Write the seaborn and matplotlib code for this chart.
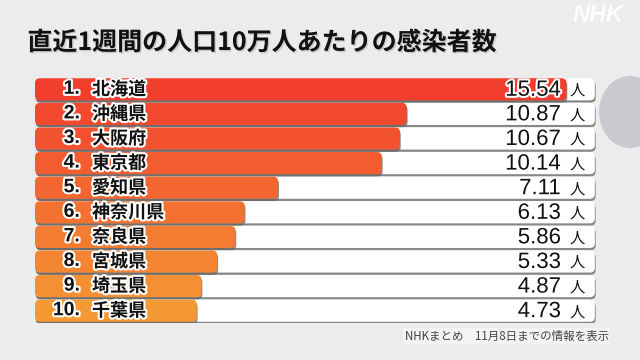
import numpy as np
import pandas as pd
import seaborn as sns
import matplotlib
matplotlib.use("Agg")
import matplotlib.pyplot as plt
import matplotlib.patheffects as pe
from matplotlib.patches import FancyBboxPatch, Ellipse
from matplotlib.colors import to_rgb

# ---- data ----
ranks = ["1.", "2.", "3.", "4.", "5.", "6.", "7.", "8.", "9.", "10."]
prefectures = ["北海道", "沖縄県", "大阪府", "東京都", "愛知県", "神奈川県", "奈良県", "宮城県", "埼玉県", "千葉県"]
values = [15.54, 10.87, 10.67, 10.14, 7.11, 6.13, 5.86, 5.33, 4.87, 4.73]
unit = "人"
title = "直近1週間の人口10万人あたりの感染者数"
footer = "NHKまとめ　11月8日までの情報を表示"
logo = "NHK"
track_max = 16.37

sns.set_theme(style="white")
plt.rcParams['font.family'] = ['Noto Sans CJK JP', 'DejaVu Sans']

BG = "#ececec"
fig = plt.figure(figsize=(6.4, 3.6), dpi=100, facecolor=BG)
ax = fig.add_axes([35/640, (360-323)/360, 605/640, 246/360])

n = len(values)
c0, c1 = np.array(to_rgb("#f23e2d")), np.array(to_rgb("#f49934"))
colors = [tuple(c0 + (c1 - c0) * i / (n - 1)) for i in range(n)]

df = pd.DataFrame({"pref": prefectures, "value": values, "track": [track_max] * n})
sns.barplot(data=df, x="track", y="pref", color="white", width=0.9, ax=ax, orient="h")
n_track = len(ax.patches)
sns.barplot(data=df, x="value", y="pref", hue="pref", palette=colors, width=0.9,
            ax=ax, orient="h", legend=False, saturation=1)

xmax = 605/34.2
ax.set_xlim(0, xmax)
ax.set_ylim(n - 0.5, -0.5)
ax.set_axis_off()

# rounded bars with shadow
px_x = 34.2
px_y = 24.6
r = 5 / px_x
asp = (5 / px_y) / r
patches = list(ax.patches)
for i, p in enumerate(patches):
    x, y = p.get_x(), p.get_y()
    w, h = p.get_width(), p.get_height()
    fc = p.get_facecolor()
    p.remove()
    fb = FancyBboxPatch((x, y), w, h, boxstyle=f"round,pad=0,rounding_size={r}",
                        mutation_aspect=asp, fc=fc, ec="none",
                        zorder=1 if i < n_track else 2)
    fb.set_path_effects([pe.SimplePatchShadow(offset=(0.6, -1.6), shadow_rgbFace="#666666", alpha=0.75),
                         pe.Normal()])
    ax.add_patch(fb)

outline = [pe.withStroke(linewidth=3, foreground="white")]
for i in range(n):
    ax.text((80 - 35) / px_x, i, ranks[i], ha="right", va="center", fontsize=14,
            family=["Liberation Sans", "DejaVu Sans"], weight="bold", color="#111111",
            path_effects=outline, zorder=5)
    ax.text((92 - 35) / px_x, i, prefectures[i], ha="left", va="center", fontsize=13,
            weight="bold", color="#111111", path_effects=outline, zorder=5)
    ax.text((561 - 35) / px_x, i + 0.04, f"{values[i]:.2f}", ha="right", va="center", fontsize=16,
            family=["Liberation Sans", "DejaVu Sans"], color="#111111",
            path_effects=outline, zorder=5)
    ax.text((577 - 35) / px_x, i + 0.04, unit, ha="center", va="center", fontsize=11,
            color="#111111", zorder=5)

# decorative ellipse on the right
fig.patches.append(Ellipse((630/640, 1 - 112/360), 62/640, 72/360, transform=fig.transFigure,
                           fc="#c8cad0", ec="none", zorder=-1))

fig.text(262/640, 1 - 43/360, title, ha="center", va="center", fontsize=18, weight="bold",
         color="#111111",
         path_effects=[pe.withSimplePatchShadow(offset=(1, -1), shadow_rgbFace="#999999", alpha=0.4)])
fig.text(609/640, 1 - 336/360, footer, ha="right", va="center", fontsize=8.3, color="#444444",
         bbox=dict(fc="#f3f3f3", ec="none", pad=1))
fig.text(598/640, 1 - 15/360, logo, ha="center", va="center", fontsize=17, weight="bold",
         style="italic", color="white", alpha=0.85, family=["Liberation Sans", "DejaVu Sans"])

fig.savefig("out.png", dpi=100, facecolor=BG)
